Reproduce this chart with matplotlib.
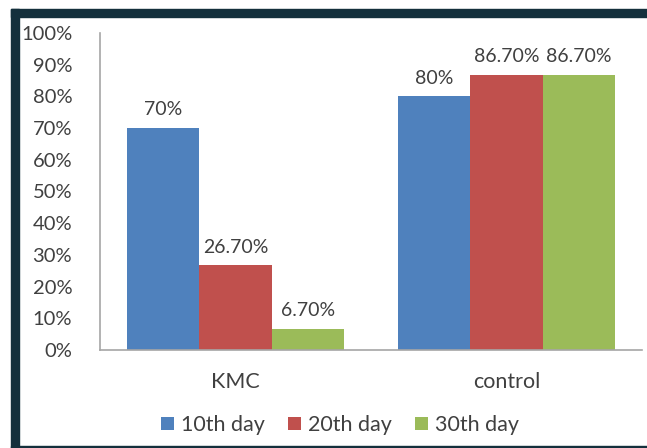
import numpy as np
import matplotlib.pyplot as plt
from matplotlib.patches import Rectangle

groups = ['KMC', 'control']
series = ['10th day', '20th day', '30th day']
day10 = [70, 80]
day20 = [26.7, 86.7]
day30 = [6.7, 86.7]
labels10 = ['70%', '80%']
labels20 = ['26.70%', '86.70%']
labels30 = ['6.70%', '86.70%']
yticks = [0, 10, 20, 30, 40, 50, 60, 70, 80, 90, 100]

colors = ['#4F81BD', '#C0504D', '#9BBB59']
text_color = '#404040'
plt.rcParams['font.family'] = ['Lato', 'DejaVu Sans']

fig = plt.figure(figsize=(6.47, 4.48), dpi=100)
ax = fig.add_axes([100 / 647, 1 - 350 / 448, 542 / 647, 317 / 448])

x = np.arange(len(groups))
w = 0.266
for i, (vals, labs) in enumerate(zip([day10, day20, day30], [labels10, labels20, labels30])):
    bars = ax.bar(x + (i - 1) * w, vals, width=w, color=colors[i], label=series[i])
    for b, lab in zip(bars, labs):
        ax.annotate(lab, (b.get_x() + b.get_width() / 2, b.get_height()),
                    xytext=(0, 7), textcoords='offset points',
                    ha='center', va='bottom', fontsize=14, color=text_color)

ax.set_xlim(-0.5, 1.5)
ax.set_ylim(0, 100)
ax.set_yticks(yticks)
ax.set_yticklabels([f'{t}%' for t in yticks], fontsize=14.5, color=text_color)
ax.set_xticks(x)
ax.set_xticklabels(groups, fontsize=15.5, color=text_color)
ax.tick_params(axis='y', length=0, pad=20)
ax.tick_params(axis='x', length=0, pad=16)
for s in ['top', 'right']:
    ax.spines[s].set_visible(False)
for s in ['left', 'bottom']:
    ax.spines[s].set_color('#A6A6A6')
    ax.spines[s].set_linewidth(1.2)

fig.legend(loc='center', bbox_to_anchor=(340 / 647, 1 - 425 / 448), ncol=3,
           frameon=False, fontsize=15.5, handlelength=0.6, handleheight=0.6,
           handletextpad=0.3, columnspacing=1.1, labelcolor=text_color)

# dark frame around the picture
frame = '#14303c'
fig.patches.append(Rectangle((11 / 647, 0), 8 / 647, 1 - 9 / 448, transform=fig.transFigure, color=frame))
fig.patches.append(Rectangle((11 / 647, 1 - 17 / 448), 636 / 647, 8 / 448, transform=fig.transFigure, color=frame))
fig.patches.append(Rectangle((11 / 647, 0), 636 / 647, 2 / 448, transform=fig.transFigure, color=frame))

fig.savefig('out.png', dpi=100)
